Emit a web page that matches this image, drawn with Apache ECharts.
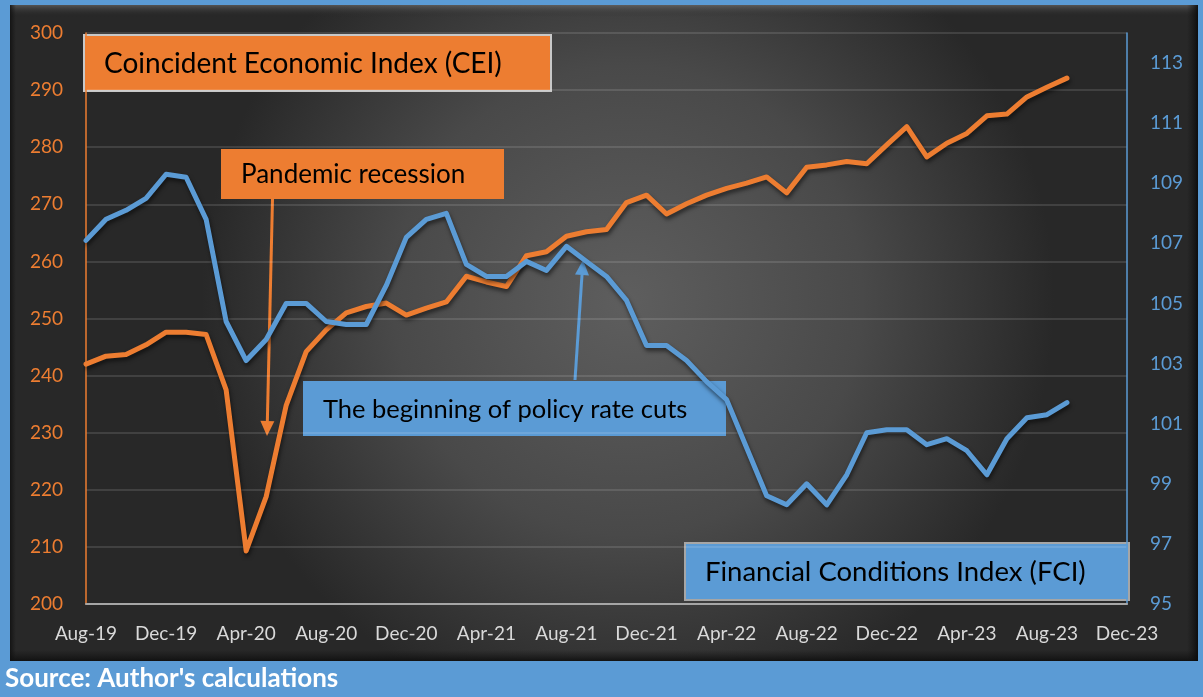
<!DOCTYPE html>
<html>
<head>
<meta charset="utf-8">
<script src="https://cdn.jsdelivr.net/npm/echarts@6/dist/echarts.min.js"></script>
<style>
html,body{margin:0;padding:0;background:#5B9BD5;}
#chart{width:1203px;height:697px;}
</style>
</head>
<body>
<div id="chart"></div>
<script>
// Categories (monthly, Aug-19 .. Dec-23)
var months = [
  'Aug-19','Sep-19','Oct-19','Nov-19','Dec-19',
  'Jan-20','Feb-20','Mar-20','Apr-20','May-20','Jun-20','Jul-20','Aug-20','Sep-20','Oct-20','Nov-20','Dec-20',
  'Jan-21','Feb-21','Mar-21','Apr-21','May-21','Jun-21','Jul-21','Aug-21','Sep-21','Oct-21','Nov-21','Dec-21',
  'Jan-22','Feb-22','Mar-22','Apr-22','May-22','Jun-22','Jul-22','Aug-22','Sep-22','Oct-22','Nov-22','Dec-22',
  'Jan-23','Feb-23','Mar-23','Apr-23','May-23','Jun-23','Jul-23','Aug-23','Sep-23','Oct-23','Nov-23','Dec-23'
];

// Coincident Economic Index (left axis)
var cei = [
  242.0, 243.4, 243.7, 245.4, 247.6, 247.6, 247.2, 237.5, 209.3, 218.8,
  234.8, 244.2, 248.0, 251.0, 252.1, 252.7, 250.6, 251.8, 252.9, 257.4,
  256.4, 255.6, 261.0, 261.7, 264.4, 265.2, 265.6, 270.3, 271.6, 268.3,
  270.1, 271.6, 272.8, 273.7, 274.8, 272.0, 276.5, 276.9, 277.5, 277.1,
  280.4, 283.6, 278.3, 280.7, 282.4, 285.5, 285.8, 288.8, 290.5, 292.1
];

// Financial Conditions Index (right axis)
var fci = [
  107.1, 107.8, 108.1, 108.5, 109.3, 109.2, 107.8, 104.4, 103.1, 103.8,
  105.0, 105.0, 104.4, 104.3, 104.3, 105.6, 107.2, 107.8, 108.0, 106.3,
  105.9, 105.9, 106.4, 106.1, 106.9, 106.4, 105.9, 105.1, 103.6, 103.6,
  103.1, 102.4, 101.8, 100.2, 98.6, 98.3, 99.0, 98.3, 99.3, 100.7,
  100.8, 100.8, 100.3, 100.5, 100.1, 99.3, 100.5, 101.2, 101.3, 101.7
];

// Axis ranges / ticks
var leftAxis = { min: 200, max: 300, interval: 10 };
var rightAxis = { min: 95, max: 114, interval: 2 };

var labels = {
  cei: 'Coincident Economic Index (CEI)',
  fci: 'Financial Conditions Index (FCI)',
  recession: 'Pandemic recession',
  cuts: 'The beginning of policy rate cuts',
  source: "Source: Author's calculations"
};

var ORANGE = '#ED7D31', BLUE = '#5B9BD5';
var FONT = 'Lato, "Open Sans", sans-serif';

function box(x, y, w, h, fill, text, fontSize, border) {
  return {
    type: 'group', z: 100,
    children: [
      { type: 'rect', shape: { x: x, y: y, width: w, height: h },
        style: { fill: fill, stroke: border || null, lineWidth: border ? 2 : 0 } },
      { type: 'text', x: x + 20, y: y + h / 2 + 1,
        style: { text: text, fill: '#000', font: fontSize + 'px ' + FONT, verticalAlign: 'middle', align: 'left' } }
    ]
  };
}

function arrow(x1, y1, x2, y2, color) {
  var dx = x2 - x1, dy = y2 - y1, len = Math.sqrt(dx * dx + dy * dy);
  var ux = dx / len, uy = dy / len, hl = 15, hw = 7;
  var bx = x2 - ux * hl, by = y2 - uy * hl;
  return {
    type: 'group', z: 101,
    children: [
      { type: 'line', shape: { x1: x1, y1: y1, x2: bx, y2: by }, style: { stroke: color, lineWidth: 3 } },
      { type: 'polygon', shape: { points: [[x2, y2], [bx - uy * hw, by + ux * hw], [bx + uy * hw, by - ux * hw]] },
        style: { fill: color } }
    ]
  };
}

var chart = echarts.init(document.getElementById('chart'), null, { renderer: 'canvas' });

chart.setOption({
  backgroundColor: BLUE,
  animation: false,
  grid: { left: 86, right: 76, top: 33, bottom: 93 },
  xAxis: {
    type: 'category',
    data: months,
    boundaryGap: false,
    axisLine: { show: true, lineStyle: { color: '#A6A6A6', width: 2 } },
    axisTick: { show: false },
    axisLabel: { interval: 3, color: '#D9D9D9', fontSize: 19, fontFamily: FONT, margin: 20 },
    splitLine: { show: false }
  },
  yAxis: [
    {
      type: 'value', position: 'left',
      min: leftAxis.min, max: leftAxis.max, interval: leftAxis.interval,
      axisLine: { show: true, lineStyle: { color: ORANGE, width: 1.5 } },
      axisTick: { show: false },
      axisLabel: { color: ORANGE, fontSize: 19, fontFamily: FONT, margin: 23 },
      splitLine: { show: true, lineStyle: { color: 'rgba(255,255,255,0.16)', width: 1.5 } }
    },
    {
      type: 'value', position: 'right',
      min: rightAxis.min, max: rightAxis.max, interval: rightAxis.interval,
      axisLine: { show: true, lineStyle: { color: BLUE, width: 1.5 } },
      axisTick: { show: false },
      axisLabel: { color: BLUE, fontSize: 19, fontFamily: FONT, margin: 23, showMaxLabel: false },
      splitLine: { show: false }
    }
  ],
  series: [
    {
      name: 'CEI', type: 'line', yAxisIndex: 0, data: cei,
      showSymbol: false, symbol: 'none', z: 3,
      lineStyle: { color: ORANGE, width: 5, cap: 'round', join: 'round',
        shadowColor: 'rgba(0,0,0,0.55)', shadowBlur: 4, shadowOffsetY: 3, shadowOffsetX: 1 }
    },
    {
      name: 'FCI', type: 'line', yAxisIndex: 1, data: fci,
      showSymbol: false, symbol: 'none', z: 4,
      lineStyle: { color: BLUE, width: 5, cap: 'round', join: 'round',
        shadowColor: 'rgba(0,0,0,0.55)', shadowBlur: 4, shadowOffsetY: 3, shadowOffsetX: 1 }
    }
  ],
  graphic: [
    // dark chart panel
    { type: 'rect', z: -10, shape: { x: 10, y: 5, width: 1188, height: 656 },
      style: { fill: new echarts.graphic.RadialGradient(0.52, 0.45, 0.65, [
        { offset: 0, color: '#5e5e5e' }, { offset: 0.55, color: '#494949' }, { offset: 1, color: '#282828' }]) } },
    // top bevel
    { type: 'rect', z: -9, shape: { x: 10, y: 5, width: 1188, height: 12 },
      style: { fill: new echarts.graphic.LinearGradient(0, 0, 0, 1, [
        { offset: 0, color: 'rgba(120,120,120,0.55)' }, { offset: 1, color: 'rgba(30,30,30,0.0)' }]) } },
    // bottom bevel
    { type: 'rect', z: -9, shape: { x: 10, y: 650, width: 1188, height: 11 },
      style: { fill: new echarts.graphic.LinearGradient(0, 0, 0, 1, [
        { offset: 0, color: 'rgba(20,20,20,0)' }, { offset: 1, color: 'rgba(15,15,15,0.9)' }]) } },
    // right bevel
    { type: 'rect', z: -9, shape: { x: 1187, y: 5, width: 11, height: 656 },
      style: { fill: new echarts.graphic.LinearGradient(0, 0, 1, 0, [
        { offset: 0, color: 'rgba(20,20,20,0)' }, { offset: 1, color: 'rgba(10,10,10,0.9)' }]) } },
    // left bevel
    { type: 'rect', z: -9, shape: { x: 10, y: 5, width: 6, height: 656 },
      style: { fill: new echarts.graphic.LinearGradient(0, 0, 1, 0, [
        { offset: 0, color: 'rgba(15,15,15,0.8)' }, { offset: 1, color: 'rgba(20,20,20,0)' }]) } },

    box(84, 35, 467, 56, ORANGE, labels.cei, 28, '#C8C8C8'),
    box(221, 149, 283, 50, ORANGE, labels.recession, 26),
    box(303, 381, 423, 55, BLUE, labels.cuts, 25.5),
    box(685, 543, 444, 57, BLUE, labels.fci, 27.5, '#A6A6A6'),

    arrow(272.5, 199, 267, 436, ORANGE),
    arrow(575, 380, 583, 260, BLUE),

    { type: 'text', z: 100, left: 5, top: 666,
      style: { text: labels.source, fill: '#ffffff', font: 'bold 26px ' + FONT } }
  ]
});
</script>
</body>
</html>
